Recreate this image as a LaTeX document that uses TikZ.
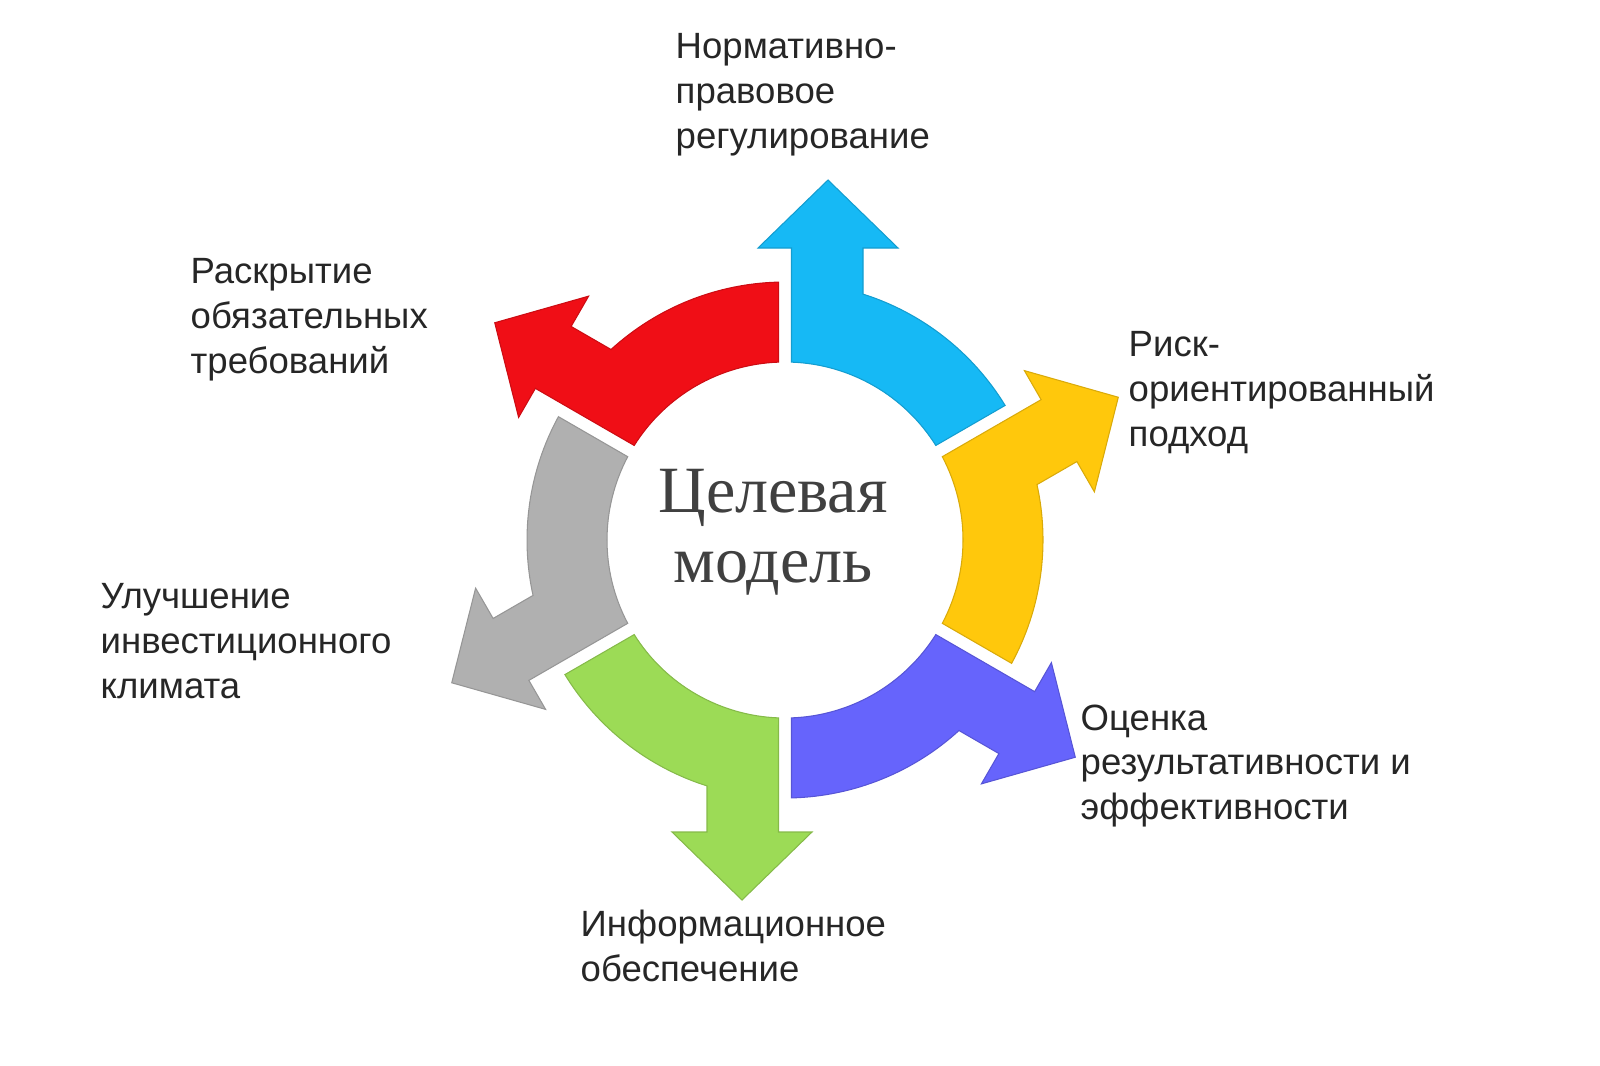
\documentclass[tikz,border=0pt]{standalone}
\usepackage{fontspec}
\setmainfont{Liberation Serif}
\newfontfamily\labelfont{Liberation Sans}
\usetikzlibrary{positioning}
\definecolor{cblue}{RGB}{22,185,245}
\definecolor{cred}{RGB}{240,14,22}
\definecolor{cgray}{RGB}{176,176,176}
\definecolor{cgreen}{RGB}{156,219,86}
\definecolor{cviolet}{RGB}{102,100,252}
\definecolor{cyellow}{RGB}{255,200,12}

\begin{document}
\begin{tikzpicture}[
	lstyle/.style={anchor=west, align=left, inner sep=0pt, text=black!85,
	font=\labelfont\fontsize{10.4}{12.8}\selectfont},
	mstyle/.style={align=center, inner sep=0pt, text=black!75,
	font=\fontsize{18.8}{20}\selectfont}
	]
	\useasboundingbox (0,0) rectangle (16,-10.65);
	\coordinate (c) at (7.85,-5.40);
	% six bent arrows around the centre
	\foreach \rot/\col in {0/cblue, 60/cred, 120/cgray, 180/cgreen, 240/cviolet, 300/cyellow}
	\filldraw[fill=\col, draw=\col!85!black, line width=0.3pt, shift={(c)}, rotate=\rot]
	(31.44:2.58) arc[start angle=31.44, end angle=72.4, radius=2.58]
	-- (0.78,2.92) -- (1.13,2.92) -- (0.43,3.60) -- (-0.27,2.92) -- (0.065,2.92)
	-- (87.91:1.78) arc[start angle=87.91, end angle=32.09, radius=1.78] -- cycle;
	\draw(7.73,-5.32)node[mstyle] (model) {Целевая\\модель};
	\draw(6.75,-0.95)node[lstyle] (norm) {Нормативно-\\правовое\\регулирование};
	\draw(11.28,-3.93)node[lstyle] (risk) {Риск-\\ориентированный\\подход};
	\draw(10.80,-7.66)node[lstyle] (ocenka) {Оценка\\результативности и\\эффективности};
	\draw(5.80,-9.46)node[lstyle] (info) {Информационное\\обеспечение};
	\draw(1.00,-6.41)node[lstyle] (klimat) {Улучшение\\инвестиционного\\климата};
	\draw(1.90,-3.20)node[lstyle] (raskr) {Раскрытие\\обязательных\\требований};
\end{tikzpicture}
\end{document}
